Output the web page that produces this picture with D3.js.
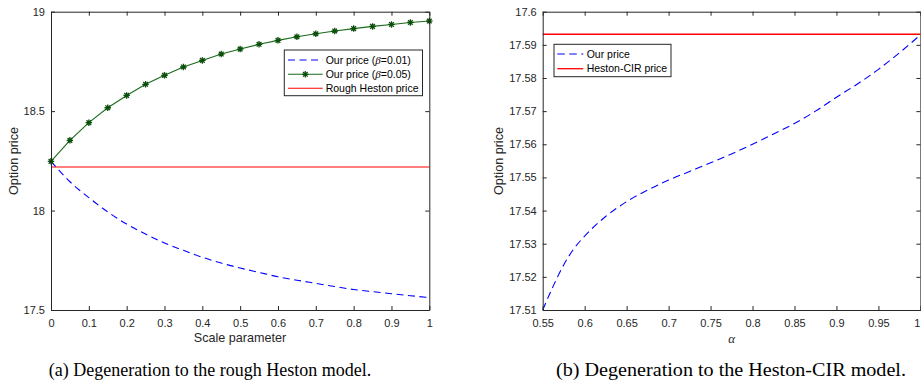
<!DOCTYPE html>
<html>
<head>
<meta charset="utf-8">
<script src="https://cdn.jsdelivr.net/npm/d3@7"></script>
<style>
  html, body { margin: 0; padding: 0; background: #fff; }
  svg { display: block; }
</style>
</head>
<body>
<svg id="chart" width="921" height="388"></svg>
<script>
// ---------- Data ----------
const scaleParam = [0, 0.05, 0.1, 0.15, 0.2, 0.25, 0.3, 0.35, 0.4, 0.45, 0.5,
                    0.55, 0.6, 0.65, 0.7, 0.75, 0.8, 0.85, 0.9, 0.95, 1.0];
const priceBeta001 = [18.2475, 18.145, 18.065, 17.993, 17.932, 17.882, 17.837, 17.800, 17.765, 17.736, 17.711,
                      17.689, 17.667, 17.650, 17.634, 17.618, 17.603, 17.592, 17.582, 17.572, 17.562];
const priceBeta005 = [18.2475, 18.353, 18.442, 18.517, 18.579, 18.635, 18.680, 18.722, 18.755, 18.787, 18.812,
                      18.836, 18.856, 18.874, 18.889, 18.903, 18.915, 18.926, 18.936, 18.946, 18.953];
const roughHestonPrice = 18.219;

const alphaValues = [0.55, 0.5625, 0.575, 0.5875, 0.6, 0.625, 0.65, 0.675, 0.7, 0.725, 0.75,
                     0.775, 0.8, 0.825, 0.85, 0.875, 0.9, 0.925, 0.95, 0.975, 1.0];
const priceAlpha = [17.5100, 17.5172, 17.5236, 17.5286, 17.5323, 17.5382, 17.5427, 17.5462, 17.5492, 17.5518, 17.5544,
                    17.5571, 17.5600, 17.5631, 17.5663, 17.5700, 17.5742, 17.5782, 17.5826, 17.5876, 17.5930];
const hestonCIRPrice = 17.5932;

const leftXTicks = [0, 0.1, 0.2, 0.3, 0.4, 0.5, 0.6, 0.7, 0.8, 0.9, 1];
const leftYTicks = [17.5, 18, 18.5, 19];
const rightXTicks = [0.55, 0.6, 0.65, 0.7, 0.75, 0.8, 0.85, 0.9, 0.95, 1];
const rightYTicks = [17.51, 17.52, 17.53, 17.54, 17.55, 17.56, 17.57, 17.58, 17.59, 17.6];

const captions = ["(a) Degeneration to the rough Heston model.", "(b) Degeneration to the Heston-CIR model."];

// ---------- Drawing ----------
const svg = d3.select("#chart");
const AX = "#262626";
const SANS = "'Liberation Sans', Arial, Helvetica, sans-serif";
const SERIF = "'Liberation Serif', 'Times New Roman', serif";

function drawFrame(g, x, y, xTicks, yTicks, fmtX, fmtY) {
  const [x0, x1] = x.range();
  const [y0, y1] = y.range(); // y0 bottom, y1 top
  const tick = 4;
  const bottom = g.append("g").attr("transform", `translate(0,${y0})`)
    .call(d3.axisBottom(x).tickValues(xTicks).tickSizeInner(-tick).tickSizeOuter(0).tickPadding(9.5).tickFormat(fmtX));
  const top = g.append("g").attr("transform", `translate(0,${y1})`)
    .call(d3.axisTop(x).tickValues(xTicks).tickSizeInner(-tick).tickSizeOuter(0).tickFormat(""));
  const left = g.append("g").attr("transform", `translate(${x0},0)`)
    .call(d3.axisLeft(y).tickValues(yTicks).tickSizeInner(-tick).tickSizeOuter(0).tickPadding(6).tickFormat(fmtY));
  const right = g.append("g").attr("transform", `translate(${x1},0)`)
    .call(d3.axisRight(y).tickValues(yTicks).tickSizeInner(-tick).tickSizeOuter(0).tickFormat(""));
  [bottom, top, left, right].forEach(a => {
    a.select(".domain").attr("stroke", AX).attr("stroke-width", 1);
    a.selectAll(".tick line").attr("stroke", AX).attr("stroke-width", 1);
    a.selectAll("text").attr("fill", AX).style("font-family", SANS).style("font-size", "11px");
  });
  return bottom;
}

function asterisk(size) {
  const r = size / 2, d = r * 0.72;
  return `M${-r},0L${r},0M0,${-r}L0,${r}M${-d},${-d}L${d},${d}M${-d},${d}L${d},${-d}`;
}

// ===== Left panel =====
{
  const x = d3.scaleLinear().domain([0, 1]).range([51, 429.3]);
  const y = d3.scaleLinear().domain([17.5, 19]).range([310, 11.7]);
  const g = svg.append("g");

  g.append("line")
    .attr("x1", x(0)).attr("x2", x(1))
    .attr("y1", y(roughHestonPrice)).attr("y2", y(roughHestonPrice))
    .attr("stroke", "#ff0000").attr("stroke-width", 1.1);

  g.append("path")
    .datum(scaleParam.map((s, i) => [s, priceBeta001[i]]))
    .attr("fill", "none").attr("stroke", "#0000ff").attr("stroke-width", 1.1)
    .attr("stroke-dasharray", "7,4.5")
    .attr("d", d3.line().x(d => x(d[0])).y(d => y(d[1])).curve(d3.curveMonotoneX));

  const gData = scaleParam.map((s, i) => [s, priceBeta005[i]]);
  g.append("path")
    .datum(gData)
    .attr("fill", "none").attr("stroke", "#1a6b1a").attr("stroke-width", 1.1)
    .attr("d", d3.line().x(d => x(d[0])).y(d => y(d[1])));
  g.selectAll(".mk").data(gData).enter().append("path")
    .attr("transform", d => `translate(${x(d[0])},${y(d[1])})`)
    .attr("d", asterisk(6.5))
    .attr("stroke", "#0a4f0a").attr("stroke-width", 1.3).attr("fill", "none");

  drawFrame(g, x, y, leftXTicks, leftYTicks, d3.format("~g"), d3.format("~g"));

  g.append("text").attr("x", 240).attr("y", 342)
    .attr("text-anchor", "middle").attr("fill", AX)
    .style("font-family", SANS).style("font-size", "12.6px").text("Scale parameter");
  g.append("text").attr("transform", "translate(17.5,161) rotate(-90)")
    .attr("text-anchor", "middle").attr("fill", AX)
    .style("font-family", SANS).style("font-size", "12.6px").text("Option price");

  const lg = g.append("g");
  lg.append("rect").attr("x", 284.3).attr("y", 50).attr("width", 138.2).attr("height", 45.7)
    .attr("fill", "#fff").attr("stroke", AX).attr("stroke-width", 1);
  const rows = [
    {y: 60, t: "0.01", kind: "blue"},
    {y: 74.3, t: "0.05", kind: "green"},
    {y: 88.3, t: null, kind: "red"}
  ];
  rows.forEach(r => {
    const line = lg.append("line").attr("x1", 288).attr("x2", 322.7).attr("y1", r.y).attr("y2", r.y)
      .attr("stroke-width", 1.1);
    if (r.kind === "blue") line.attr("stroke", "#0000ff").attr("stroke-dasharray", "7,4.5");
    if (r.kind === "green") {
      line.attr("stroke", "#1a6b1a");
      lg.append("path").attr("transform", `translate(305.3,${r.y})`).attr("d", asterisk(6.5))
        .attr("stroke", "#0a4f0a").attr("stroke-width", 1.3).attr("fill", "none");
    }
    if (r.kind === "red") line.attr("stroke", "#ff0000");
    const t = lg.append("text").attr("x", 325.7).attr("y", r.y).attr("dy", "0.36em")
      .attr("fill", "#000").style("font-family", SANS).style("font-size", "10.5px");
    if (r.t) {
      t.append("tspan").text("Our price (");
      t.append("tspan").style("font-family", SERIF).style("font-style", "italic").style("font-size", "11px").text("β");
      t.append("tspan").text("=" + r.t + ")");
    } else {
      t.text("Rough Heston price");
    }
  });
}

// ===== Right panel =====
{
  const x = d3.scaleLinear().domain([0.55, 1]).range([542.7, 920.4]);
  const y = d3.scaleLinear().domain([17.51, 17.6]).range([310, 11.7]);
  const g = svg.append("g");

  g.append("line")
    .attr("x1", x(0.55)).attr("x2", x(1))
    .attr("y1", y(hestonCIRPrice)).attr("y2", y(hestonCIRPrice))
    .attr("stroke", "#ff0000").attr("stroke-width", 1.3);

  g.append("path")
    .datum(alphaValues.map((a, i) => [a, priceAlpha[i]]))
    .attr("fill", "none").attr("stroke", "#0000ff").attr("stroke-width", 1.1)
    .attr("stroke-dasharray", "7.5,4.5")
    .attr("d", d3.line().x(d => x(d[0])).y(d => y(d[1])).curve(d3.curveMonotoneX));

  const bottom = drawFrame(g, x, y, rightXTicks, rightYTicks, d3.format("~g"), d3.format("~g"));
  // the last tick label "1" sits at the figure edge; keep it fully visible
  bottom.selectAll(".tick text").filter(d => d === 1).attr("text-anchor", "end").attr("dx", "-0.05em");

  g.append("text").attr("x", 731.7).attr("y", 343)
    .attr("text-anchor", "middle").attr("fill", AX)
    .style("font-family", SERIF).style("font-style", "italic").style("font-size", "13px").text("α");
  g.append("text").attr("transform", "translate(502.5,161) rotate(-90)")
    .attr("text-anchor", "middle").attr("fill", AX)
    .style("font-family", SANS).style("font-size", "12.6px").text("Option price");

  const lg = g.append("g");
  lg.append("rect").attr("x", 554).attr("y", 44.3).attr("width", 117).attr("height", 32.4)
    .attr("fill", "#fff").attr("stroke", AX).attr("stroke-width", 1);
  lg.append("line").attr("x1", 557.3).attr("x2", 583.3).attr("y1", 54).attr("y2", 54)
    .attr("stroke", "#0000ff").attr("stroke-width", 1.1).attr("stroke-dasharray", "7.5,4.5");
  lg.append("line").attr("x1", 557.3).attr("x2", 583.3).attr("y1", 68.7).attr("y2", 68.7)
    .attr("stroke", "#ff0000").attr("stroke-width", 1.3);
  lg.append("text").attr("x", 586.7).attr("y", 54).attr("dy", "0.36em")
    .style("font-family", SANS).style("font-size", "10.5px").attr("fill", "#000").text("Our price");
  lg.append("text").attr("x", 586.7).attr("y", 68.7).attr("dy", "0.36em")
    .style("font-family", SANS).style("font-size", "10.5px").attr("fill", "#000").text("Heston-CIR price");
}

// ===== Captions =====
svg.append("text").attr("x", 210).attr("y", 375.5).attr("text-anchor", "middle")
  .style("font-family", SERIF).style("font-size", "18px").attr("fill", "#000").text(captions[0]);
svg.append("text").attr("x", 731).attr("y", 375.5).attr("text-anchor", "middle")
  .attr("textLength", 350).attr("lengthAdjust", "spacingAndGlyphs")
  .style("font-family", SERIF).style("font-size", "18px").attr("fill", "#000").text(captions[1]);
</script>
</body>
</html>
